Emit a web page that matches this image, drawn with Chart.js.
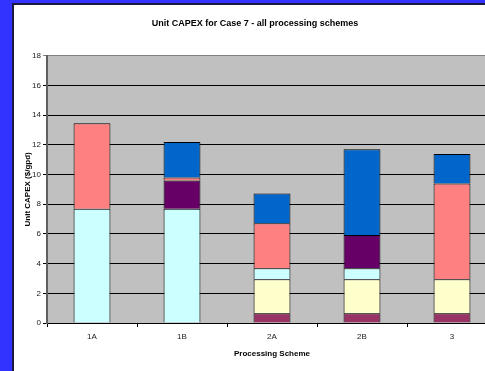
<!DOCTYPE html>
<html>
<head>
<meta charset="utf-8">
<script src="https://cdn.jsdelivr.net/npm/chart.js@4/dist/chart.umd.min.js"></script>
<style>
    html, body { margin: 0; padding: 0; overflow: hidden; }
    body { background: #3333ff; width: 485px; height: 371px; position: relative; }
    #panel {
        position: absolute; left: 12px; top: 3px; width: 520px; height: 400px;
        background: #fff; border-left: 2px solid #1a1a40; border-top: 2px solid #1a1a40;
    }
    #capexChart { position: absolute; left: 0; top: 0; }
</style>
</head>
<body>
<div id="panel"></div>
<canvas id="capexChart" width="516" height="371"></canvas>
<script>
    const schemes = ['1A', '1B', '2A', '2B', '3'];

    // stacked components, bottom to top (null = not present)
    const seriesMaroon = [null, null, 0.65, 0.65, 0.65];
    const seriesYellow = [null, null, 2.3, 2.3, 2.3];
    const seriesCyan   = [7.7, 7.7, 0.74, 0.74, null];
    const seriesPurple = [null, 1.9, null, 2.24, null];
    const seriesPink   = [5.75, 0.2, 3.03, null, 6.44];
    const seriesBlue   = [null, 2.4, 2.0, 5.78, 2.0];

    const yTicks = [0, 2, 4, 6, 8, 10, 12, 14, 16, 18];

    const plotBg = {
        id: 'plotBg',
        beforeDraw(chart) {
            const { ctx, chartArea: a } = chart;
            ctx.save();
            ctx.fillStyle = '#c0c0c0';
            ctx.fillRect(a.left, a.top, a.right - a.left, a.bottom - a.top);
            ctx.restore();
        }
    };

    function makeSet(label, data, color) {
        return {
            label: label,
            data: data,
            backgroundColor: color,
            borderColor: '#000',
            borderWidth: 1,
            barPercentage: 0.41,
            categoryPercentage: 1
        };
    }

    new Chart(document.getElementById('capexChart'), {
        type: 'bar',
        data: {
            labels: schemes,
            datasets: [
                makeSet('S1', seriesMaroon, '#993366'),
                makeSet('S2', seriesYellow, '#ffffcc'),
                makeSet('S3', seriesCyan, '#ccffff'),
                makeSet('S4', seriesPurple, '#660066'),
                makeSet('S5', seriesPink, '#ff8080'),
                makeSet('S6', seriesBlue, '#0066cc')
            ]
        },
        options: {
            responsive: false,
            animation: false,
            layout: { padding: { left: 13, right: 19, top: 0, bottom: 0 } },
            plugins: {
                legend: { display: false },
                tooltip: { enabled: false },
                title: {
                    display: true,
                    text: 'Unit CAPEX for Case 7 - all processing schemes',
                    color: '#000',
                    font: { family: 'Liberation Sans', size: 9, weight: 'bold' },
                    padding: { top: 18, bottom: 27 }
                }
            },
            scales: {
                x: {
                    stacked: true,
                    afterFit: s => { s.height = 48; },
                    grid: { offset: true, drawOnChartArea: false, tickLength: 4, color: '#000' },
                    border: { color: '#000', width: 1 },
                    ticks: { color: '#222', font: { family: 'Liberation Sans', size: 8 }, padding: 5 },
                    title: {
                        display: true,
                        text: 'Processing Scheme',
                        color: '#000',
                        font: { family: 'Liberation Sans', size: 8, weight: 'bold' },
                        padding: { top: 6, bottom: 12 }
                    }
                },
                y: {
                    stacked: true,
                    min: 0,
                    max: 18,
                    afterFit: s => { s.width = 34; },
                    afterBuildTicks: s => { s.ticks = yTicks.map(v => ({ value: v })); },
                    grid: {
                        color: c => c.tick && c.tick.value === 18 ? '#808080' : '#000',
                        lineWidth: 1,
                        tickLength: 4
                    },
                    border: { color: '#606060', width: 2 },
                    ticks: { color: '#222', font: { family: 'Liberation Sans', size: 8 }, padding: 2 },
                    title: {
                        display: true,
                        text: 'Unit CAPEX ($/gpd)',
                        color: '#000',
                        font: { family: 'Liberation Sans', size: 8, weight: 'bold' },
                        padding: { top: 10, bottom: 0 }
                    }
                }
            }
        },
        plugins: [plotBg]
    });
</script>
</body>
</html>
